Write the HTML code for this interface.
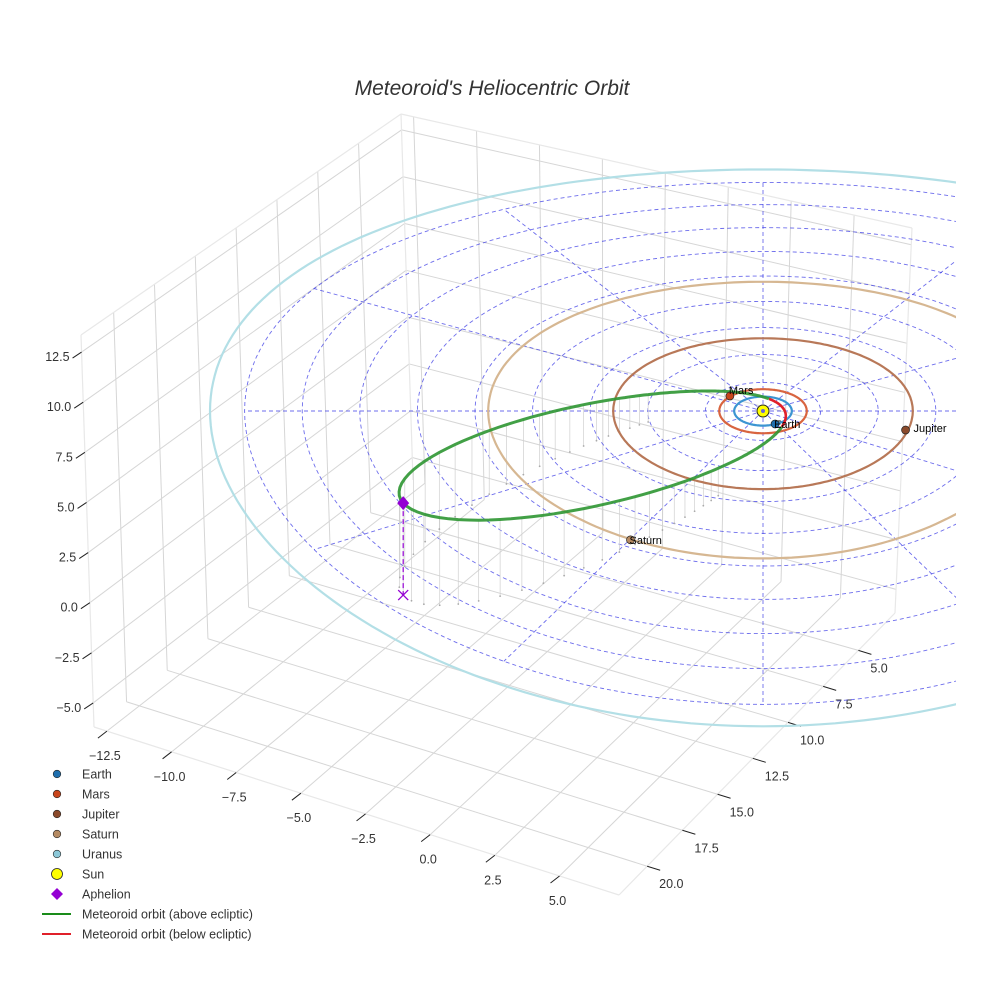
<!DOCTYPE html>
<html><head><meta charset="utf-8"><style>
html,body{margin:0;padding:0;background:#fff;}
svg{display:block;font-family:"Liberation Sans",sans-serif;}
</style></head><body>
<svg id="chart" width="984" height="984" viewBox="0 0 984 984" xmlns="http://www.w3.org/2000/svg">
<defs><clipPath id="clipR"><rect x="0" y="0" width="956" height="984"/></clipPath></defs>
<text x="492" y="95" text-anchor="middle" font-size="21" font-style="italic" fill="#333">Meteoroid's Heliocentric Orbit</text>
<g id="box"></g><g id="plane" clip-path="url(#clipR)"></g><g id="orbits" clip-path="url(#clipR)"></g><g id="marks"></g><g id="legend"></g>
</svg>
<script>
// ---- data ----
const xTicks = [-12.5,-10.0,-7.5,-5.0,-2.5,0.0,2.5,5.0];
const yTicks = [5.0,7.5,10.0,12.5,15.0,17.5,20.0];
const zTicks = [-5.0,-2.5,0.0,2.5,5.0,7.5,10.0,12.5];
const planetNames = ["Earth","Mars","Jupiter","Saturn","Uranus"];
const planetRadii = [1.0,1.52,5.2,9.54,19.2];
const planetX = [0.42,-1.15,4.95,-4.6,null];
const planetY = [0.89,-1.04,1.3,8.4,null];
const planetColors = ["#1f6fae","#c8451c","#8b4a2b","#b58a62","#8cc8d8"];
const orbitColors = ["#3c95d2","#d8643f","#b87858","#d6b792","#b3dfe6"];
const gridRings = [2,4,6,8,10,12,14,16,18];
const gridSpokes = [0,30,60,90,120,150,180,210,240,270,300,330];
const meteorQ = [0.72, 13.9];         // perihelion, aphelion distance (AU)
const meteorPeriAngle = [-26];        // direction of perihelion (deg)
const belowArc = [-50, 85];           // true anomaly range below ecliptic
const aphelionLift = [4.6];           // aphelion height above its ecliptic projection
// ---- geometry ----
const NS="http://www.w3.org/2000/svg";
function mk(tag,attrs,parent){const e=document.createElementNS(NS,tag);for(const k in attrs)e.setAttribute(k,attrs[k]);parent.appendChild(e);return e;}
const xr=[-13.0,7.3], yr=[2.4,22.0], zr=[-6.2,13.35];
const A=[94,727],B=[619,895],C=[895,613],D=[413,480];
const At=[81,335],Dt=[401,114],Ct=[912,228];
function lerp(p,q,t){return [p[0]+(q[0]-p[0])*t,p[1]+(q[1]-p[1])*t];}
function floorPt(x,y){const fx=(x-xr[0])/(xr[1]-xr[0]);const fy=(yr[1]-y)/(yr[1]-yr[0]);
  const front=lerp(A,B,fx), back=lerp(D,C,fx);return lerp(front,back,fy);}
function leftWall(y,z){const fy=(yr[1]-y)/(yr[1]-yr[0]);const fz=(z-zr[0])/(zr[1]-zr[0]);
  return lerp(lerp(A,D,fy),lerp(At,Dt,fy),fz);}
function backWall(x,z){const fx=(x-xr[0])/(xr[1]-xr[0]);const fz=(z-zr[0])/(zr[1]-zr[0]);
  return lerp(lerp(D,C,fx),lerp(Dt,Ct,fx),fz);}
function E(X,Y,Z){Z=Z||0;return [763+28.8*X, 411+14.5*Y+0.1*Y*Y-20*Z];}
const box=document.getElementById('box');
function line(p,q,st,parent,name){const l=mk('line',{x1:p[0],y1:p[1],x2:q[0],y2:q[1],stroke:st.c,'stroke-width':st.w||1},parent);
  if(st.d)l.setAttribute('stroke-dasharray',st.d);if(st.o)l.setAttribute('opacity',st.o);
  
  return l;}
const G={c:'#d6d6d6',w:1};
xTicks.forEach(x=>line(floorPt(x,yr[0]),floorPt(x,yr[1]),G,box,'floor-grid-x'));
yTicks.forEach(y=>line(floorPt(xr[0],y),floorPt(xr[1],y),G,box,'floor-grid-y'));
yTicks.forEach(y=>line(leftWall(y,zr[0]),leftWall(y,zr[1]),G,box,'left-wall-grid-y'));
zTicks.forEach(z=>line(leftWall(yr[0],z),leftWall(yr[1],z),G,box,'left-wall-grid-z'));
xTicks.forEach(x=>line(backWall(x,zr[0]),backWall(x,zr[1]),G,box,'back-wall-grid-x'));
zTicks.forEach(z=>line(backWall(xr[0],z),backWall(xr[1],z),G,box,'back-wall-grid-z'));
const EC={c:'#e8e8e8',w:1.2};
[[A,B],[B,C],[A,At],[At,Dt],[Dt,Ct],[D,Dt],[C,Ct]].forEach(e=>line(e[0],e[1],EC,box,'axis-box-edge'));
function label(p,t,anchor,name){const e=mk('text',{x:p[0],y:p[1],'font-size':12.5,fill:'#333','text-anchor':anchor},box);e.textContent=t;
  
  }
xTicks.forEach(x=>{const p=floorPt(x,yr[1]);line(p,[p[0]-9,p[1]+7],{c:'#222',w:1},box,'x-tick');label([p[0]-2,p[1]+29],x.toFixed(1).replace('-','\u2212'),'middle','x-tick-label');});
yTicks.forEach(y=>{const p=floorPt(xr[1],y);line(p,[p[0]+13,p[1]+4],{c:'#222',w:1},box,'y-tick');label([p[0]+12,p[1]+22],y.toFixed(1),'start','y-tick-label');});
zTicks.forEach(z=>{const p=leftWall(yr[1],z);line(p,[p[0]-9,p[1]+6],{c:'#222',w:1},box,'z-tick');label([p[0]-12,p[1]+9],z.toFixed(1).replace('-','\u2212'),'end','z-tick-label');});
const plane=document.getElementById('plane');
const DS={c:'#3c3ce6',w:0.9,d:'4 3',o:0.75};
function ringPath(r,n){let d='';for(let i=0;i<=n;i++){const a=i/n*2*Math.PI;const p=E(r*Math.cos(a),r*Math.sin(a));d+=(i?'L':'M')+p[0].toFixed(1)+','+p[1].toFixed(1);}return d;}
gridRings.forEach(r=>{const p=mk('path',{d:ringPath(r,180),fill:'none',stroke:DS.c,'stroke-width':DS.w,'stroke-dasharray':DS.d,opacity:DS.o},plane);
  
  });
const rMax=gridRings[gridRings.length-1];
gridSpokes.forEach(a=>{const t=a*Math.PI/180;line(E(0,0),E(rMax*Math.cos(t),rMax*Math.sin(t)),DS,plane,'ecliptic-grid-spoke');});
const orb=document.getElementById('orbits');
const q=meteorQ[0],Q=meteorQ[1],a=(q+Q)/2,e=(Q-q)/(Q+q),p=a*(1-e*e),w=meteorPeriAngle[0]*Math.PI/180;
function orbitPt(nuDeg){const nu=nuDeg*Math.PI/180;const r=p/(1+e*Math.cos(nu));return [r*Math.cos(nu+w),r*Math.sin(nu+w),r];}
for(let nu=110;nu<=250;nu+=2){const o=orbitPt(nu);if(o[2]<4)continue;const h=aphelionLift[0]*o[2]/Q;
  const top=E(o[0],o[1]);const bot=[top[0],top[1]+20*h];
  line(top,bot,{c:'#cfcfcf',w:0.7},orb,'drop-line');
  const c=mk('circle',{cx:bot[0],cy:bot[1],r:0.9,fill:'#aaa'},orb);}
planetRadii.forEach((r,i)=>{const pa=mk('path',{d:ringPath(r,240),fill:'none',stroke:orbitColors[i],'stroke-width':2.2},orb);
  
  });
function arcPath(n0,n1){let d='';for(let n=n0,i=0;n<=n1+1e-6;n+=1,i++){const o=orbitPt(n);const s=E(o[0],o[1]);d+=(i?'L':'M')+s[0].toFixed(1)+','+s[1].toFixed(1);}return d;}
const gp=mk('path',{d:arcPath(belowArc[1],360+belowArc[0]),fill:'none',stroke:'#2e9632','stroke-width':3,opacity:0.9},orb);


const rp=mk('path',{d:arcPath(belowArc[0],belowArc[1]),fill:'none',stroke:'#e0202a','stroke-width':2.6},orb);


const mg=document.getElementById('marks');
const apo=orbitPt(180),aps=E(apo[0],apo[1]);const apb=[aps[0],aps[1]+20*aphelionLift[0]];
line(aps,apb,{c:'#9400d3',w:1.2,d:'5 3'},mg,'aphelion-drop-line');
const xm=mk('path',{d:`M${apb[0]-5},${apb[1]-5}L${apb[0]+5},${apb[1]+5}M${apb[0]-5},${apb[1]+5}L${apb[0]+5},${apb[1]-5}`,stroke:'#9400d3','stroke-width':1.3},mg);

const dm=mk('path',{d:`M${aps[0]},${aps[1]-7}L${aps[0]+6},${aps[1]}L${aps[0]},${aps[1]+7}L${aps[0]-6},${aps[1]}Z`,fill:'#9400d3'},mg);

const sun=E(0,0);
const sc=mk('circle',{cx:sun[0],cy:sun[1],r:6,fill:'#ffff00',stroke:'#222','stroke-width':1},mg);

const sc2=mk('circle',{cx:sun[0],cy:sun[1],r:2,fill:'#6a6ad8'},mg);

planetNames.forEach((n,i)=>{if(planetX[i]===null)return;const s=E(planetX[i],planetY[i]);
  const c=mk('circle',{cx:s[0],cy:s[1],r:4,fill:planetColors[i],stroke:'#222','stroke-width':0.7},mg);
  
  
  const t=mk('text',{x:s[0]+(n==='Jupiter'?8:-1),y:s[1]+(n==='Mars'?-2:(n==='Jupiter'?2:4)),'font-size':11,fill:'#000'},mg);
  t.textContent=n;
  
  });
const lg=document.getElementById('legend');
const legendLabels=["Earth","Mars","Jupiter","Saturn","Uranus","Sun","Aphelion","Meteoroid orbit (above ecliptic)","Meteoroid orbit (below ecliptic)"];
const legendColors=["#1f6fae","#c8451c","#8b4a2b","#b58a62","#8cc8d8","#ffff00","#9400d3","#1a8c1a","#e0202a"];
legendLabels.forEach((t,i)=>{const y=774+i*20;const g=mk('g',{},lg);
  
  
  if(i<5){mk('circle',{cx:57,cy:y,r:3.8,fill:legendColors[i],stroke:'#222','stroke-width':0.6},g);}
  else if(i===5){mk('circle',{cx:57,cy:y,r:5.5,fill:legendColors[i],stroke:'#222','stroke-width':0.8},g);}
  else if(i===6){mk('path',{d:`M57,${y-6}L63,${y}L57,${y+6}L51,${y}Z`,fill:legendColors[i]},g);}
  else{mk('line',{x1:42,y1:y,x2:71,y2:y,stroke:legendColors[i],'stroke-width':2},g);}
  const tx=mk('text',{x:82,y:y+4.5,'font-size':12.5,fill:'#333'},g);tx.textContent=t;});
</script>
</body></html>
